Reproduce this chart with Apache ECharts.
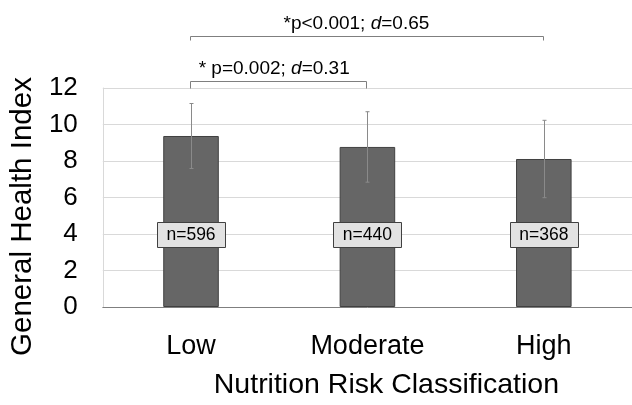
<!DOCTYPE html>
<html>
<head>
<meta charset="utf-8">
<script src="https://cdn.jsdelivr.net/npm/echarts@6/dist/echarts.min.js"></script>
<style>
html,body{margin:0;padding:0;background:#fff;}
#chart{width:632px;height:405px;}
</style>
</head>
<body>
<div id="chart"></div>
<script>
const categories = ['Low', 'Moderate', 'High'];
const means = [9.37, 8.77, 8.11];
const sds = [1.78, 1.93, 2.12];
const sampleSizes = [596, 440, 368];
const labelLevel = [4, 4, 4];
const comparisonFrom = [0, 0];
const comparisonTo = [1, 2];
const comparisonP = ['* p=0.002; ', '*p<0.001; '];
const comparisonD = ['0.31', '0.65'];

const FONT = '"Liberation Sans", Arial, sans-serif';
const chart = echarts.init(document.getElementById('chart'), null, {renderer: 'canvas'});

const option = {
  animation: false,
  backgroundColor: '#ffffff',
  grid: {left: 100, right: 0, top: 88, bottom: 95, containLabel: false},
  xAxis: {
    type: 'category',
    data: categories,
    axisLine: {show: true, lineStyle: {color: '#7f7f7f', width: 1}},
    axisTick: {show: false},
    axisLabel: {color: '#000', fontSize: 27, fontFamily: FONT, margin: 26},
    name: 'Nutrition Risk Classification',
    nameLocation: 'middle',
    nameGap: 64,
    nameTextStyle: {color: '#000', fontSize: 28.5, fontFamily: FONT, padding: [0, 0, 0, 38]}
  },
  yAxis: {
    type: 'value',
    min: 0,
    max: 12,
    interval: 2,
    axisLine: {show: true, lineStyle: {color: '#d9d9d9'}},
    axisTick: {show: false},
    splitLine: {show: true, lineStyle: {color: '#d9d9d9', width: 1}},
    axisLabel: {color: '#000', fontSize: 26, fontFamily: FONT, margin: 25},
    name: 'General Health Index',
    nameLocation: 'middle',
    nameGap: 61,
    nameTextStyle: {color: '#000', fontSize: 29.5, fontFamily: FONT, padding: [0, 38, 0, 0]}
  },
  series: [
    {
      type: 'bar',
      data: means,
      barWidth: '31.5%',
      itemStyle: {color: '#666666', borderColor: '#404040', borderWidth: 1},
      z: 2
    },
    {
      type: 'custom',
      z: 3,
      data: categories.map((c, i) => [i, means[i] - sds[i], means[i] + sds[i]]),
      renderItem: function (params, api) {
        const lo = api.coord([api.value(0), api.value(1)]);
        const hi = api.coord([api.value(0), api.value(2)]);
        const x = Math.round(lo[0]) + 0.5;
        const st = {stroke: '#8a8a8a', lineWidth: 1};
        return {
          type: 'group',
          children: [
            {type: 'line', shape: {x1: x, y1: lo[1], x2: x, y2: hi[1]}, style: st},
            {type: 'line', shape: {x1: x - 2, y1: hi[1], x2: x + 2, y2: hi[1]}, style: st},
            {type: 'line', shape: {x1: x - 2, y1: lo[1], x2: x + 2, y2: lo[1]}, style: st}
          ]
        };
      }
    },
    {
      type: 'custom',
      z: 4,
      data: categories.map((c, i) => [i, labelLevel[i], sampleSizes[i]]),
      renderItem: function (params, api) {
        const p = api.coord([api.value(0), api.value(1)]);
        const w = 68, h = 25;
        const x0 = Math.round(p[0] - w / 2) + 0.5;
        const y0 = Math.round(p[1] - h / 2) + 0.5;
        return {
          type: 'group',
          children: [
            {type: 'rect', shape: {x: x0, y: y0, width: w, height: h},
             style: {fill: '#e2e2e2', stroke: '#404040', lineWidth: 1}},
            {type: 'text', style: {text: 'n=' + api.value(2), x: p[0], y: p[1] + 1,
              align: 'center', verticalAlign: 'middle', fill: '#000',
              font: '17.5px ' + FONT}}
          ]
        };
      }
    },
    {
      type: 'custom',
      z: 5,
      clip: false,
      data: comparisonFrom.map((f, k) => [f, comparisonTo[k], k]),
      renderItem: function (params, api) {
        const k = api.value(2);
        const a = api.coord([api.value(0), 12]);
        const b = api.coord([api.value(1), 12]);
        const top = a[1];
        const yl = k === 0 ? top - 7 : top - 52;
        const tick = k === 0 ? 7 : 4;
        const xa = Math.round(a[0]) - 0.5, xb = Math.round(b[0]) - 0.5;
        const yy = Math.round(yl) + 0.5;
        const st = {stroke: '#7f7f7f', lineWidth: 1, fill: null};
        const mid = (a[0] + b[0]) / 2 - (k === 0 ? 5 : 11);
        return {
          type: 'group',
          children: [
            {type: 'polyline', shape: {points: [[xa, yy + tick], [xa, yy], [xb, yy], [xb, yy + tick]]}, style: st},
            {type: 'text', style: {
              text: '{n|' + comparisonP[k] + '}{i|d}{n|=' + comparisonD[k] + '}',
              x: mid, y: yl - 12, align: 'center', verticalAlign: 'middle',
              rich: {
                n: {fontSize: 19, fontFamily: FONT, color: '#000'},
                i: {fontSize: 19, fontFamily: FONT, fontStyle: 'italic', color: '#000'}
              }
            }}
          ]
        };
      }
    }
  ]
};
chart.setOption(option);
</script>
</body>
</html>
